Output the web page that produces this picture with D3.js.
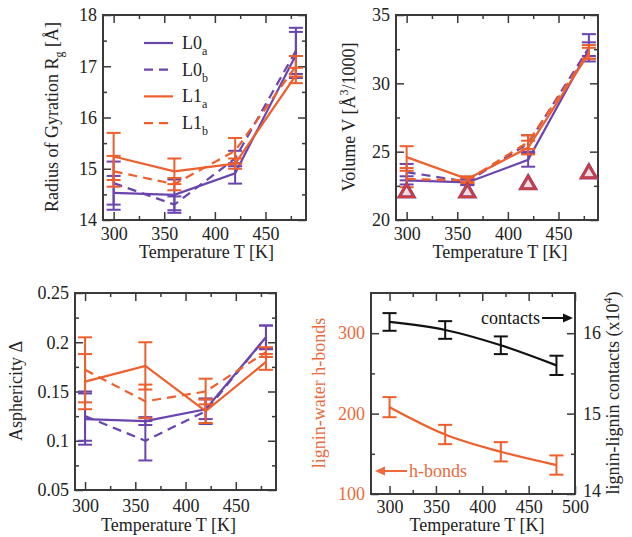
<!DOCTYPE html>
<html>
<head>
<meta charset="utf-8">
<script src="https://cdn.jsdelivr.net/npm/d3@7"></script>
<style>
body { margin: 0; background: #fff; }
text { font-family: "Liberation Serif", "DejaVu Serif", serif; }
</style>
</head>
<body>
<div class="canvas"></div>
<script>
// temperatures (K)
const temps = [300, 360, 420, 480];

// radius of gyration [A]
const rgL0a = [14.53, 14.49, 14.91, 17.22];
const rgL0aErr = [0.33, 0.3, 0.2, 0.45];
const rgL0b = [14.72, 14.3, 15.2, 17.3];
const rgL0bErr = [0.42, 0.16, 0.15, 0.45];
const rgL1a = [15.24, 14.95, 15.1, 16.82];
const rgL1aErr = [0.46, 0.25, 0.1, 0.15];
const rgL1b = [14.95, 14.7, 15.35, 17.0];
const rgL1bErr = [0.3, 0.12, 0.25, 0.2];

// volume [A^3/1000]
const volL0a = [22.9, 22.75, 24.4, 32.5];
const volL0aErr = [0.3, 0.2, 0.5, 0.5];
const volL0b = [23.5, 22.8, 25.6, 32.6];
const volL0bErr = [0.6, 0.2, 0.6, 1.0];
const volL1a = [24.6, 23.0, 25.3, 32.2];
const volL1aErr = [0.8, 0.2, 0.5, 0.4];
const volL1b = [23.0, 22.9, 25.7, 32.3];
const volL1bErr = [0.6, 0.2, 0.5, 0.5];
const volTriangle = [22.0, 22.0, 22.6, 23.4];

// asphericity
const asL0a = [0.122, 0.12, 0.132, 0.205];
const asL0aErr = [0.026, 0.004, 0.01, 0.012];
const asL0b = [0.125, 0.1, 0.13, 0.205];
const asL0bErr = [0.025, 0.02, 0.013, 0.012];
const asL1a = [0.16, 0.176, 0.13, 0.18];
const asL1aErr = [0.028, 0.024, 0.012, 0.008];
const asL1b = [0.172, 0.14, 0.15, 0.19];
const asL1bErr = [0.033, 0.017, 0.013, 0.005];

// h-bonds (left axis) and contacts x10^4 (right axis)
const hbonds = [208, 174, 152.5, 136];
const hbondsErr = [12.5, 12, 12, 12];
const contacts = [16.14, 16.04, 15.85, 15.6];
const contactsErr = [0.11, 0.11, 0.11, 0.12];

const purple = '#6a45b0';
const orange = '#ee5f2c';
const frameColor = '#3a3a3a';

const svg = d3.select('.canvas')
    .append('svg')
    .attr('width', 632)
    .attr('height', 537);

// one framed panel with inward ticks on all four sides
const panel = (o) => {
    const g = svg.append('g');
    const x = d3.scaleLinear().domain(o.xDomain).range([o.left, o.right]);
    const y = d3.scaleLinear().domain(o.yDomain).range([o.bottom, o.top]);

    const ax = (axis, tr) => g.append('g')
        .attr('transform', tr)
        .call(axis)
        .attr('color', frameColor)
        .attr('font-size', 18)
        .call(s => s.select('.domain').remove())
        .call(s => s.selectAll('line').attr('stroke-width', 1.5));

    // minor ticks
    ax(d3.axisBottom(x).tickValues(o.xMinor).tickSize(-4).tickSizeOuter(0).tickFormat(''), `translate(0,${o.bottom})`);
    ax(d3.axisTop(x).tickValues(o.xMinor).tickSize(-4).tickSizeOuter(0).tickFormat(''), `translate(0,${o.top})`);
    ax(d3.axisLeft(y).tickValues(o.yMinor).tickSize(-4).tickSizeOuter(0).tickFormat(''), `translate(${o.left},0)`);
    ax(d3.axisRight(y).tickValues(o.yMinor).tickSize(-4).tickSizeOuter(0).tickFormat(''), `translate(${o.right},0)`);

    // major ticks
    const xb = ax(d3.axisBottom(x).tickValues(o.xTicks).tickSize(-8).tickSizeOuter(0).tickPadding(o.xPad), `translate(0,${o.bottom})`);
    ax(d3.axisTop(x).tickValues(o.xTicks).tickSize(-8).tickSizeOuter(0).tickFormat(''), `translate(0,${o.top})`);
    const yl = ax(d3.axisLeft(y).tickValues(o.yTicks).tickSize(-8).tickSizeOuter(0).tickPadding(6).tickFormat(o.yFormat || (d => d)), `translate(${o.left},0)`);
    ax(d3.axisRight(y).tickValues(o.yTicks).tickSize(-8).tickSizeOuter(0).tickFormat(''), `translate(${o.right},0)`);
    xb.selectAll('text').attr('fill', '#222');
    yl.selectAll('text').attr('fill', '#222');

    g.append('rect')
        .attr('x', o.left).attr('y', o.top)
        .attr('width', o.right - o.left).attr('height', o.bottom - o.top)
        .attr('fill', 'none')
        .attr('stroke', frameColor)
        .attr('stroke-width', 2);

    // x title
    g.append('text')
        .attr('x', (o.left + o.right) / 2 + o.xTitleShift)
        .attr('y', o.xTitleY)
        .attr('text-anchor', 'middle')
        .attr('font-size', 18)
        .attr('fill', '#222')
        .text('Temperature T [K]');

    return { g, x, y, yl };
};

// rotated y title built from [text, shift] pieces
const yTitle = (g, cx, cy, parts, color) => {
    const t = g.append('text')
        .attr('transform', `translate(${cx},${cy}) rotate(-90)`)
        .attr('text-anchor', 'middle')
        .attr('dy', '0.35em')
        .attr('font-size', 18)
        .attr('fill', color || '#222');
    let cur = 0;
    parts.forEach(p => {
        const sp = t.append('tspan').text(p[0]).attr('dy', p[1] - cur);
        if (p[1] !== 0) sp.attr('font-size', 12);
        cur = p[1];
    });
};

const series = (p, ys, errs, color, dash, curve) => {
    const pts = temps.map((t, i) => [t, ys[i], errs[i]]);
    const line = d3.line()
        .x(d => p.x(d[0]))
        .y(d => p.y(d[1]))
        .curve(curve || d3.curveLinear);
    p.g.append('path')
        .datum(pts)
        .attr('d', line)
        .attr('fill', 'none')
        .attr('stroke', color)
        .attr('stroke-width', 2.2)
        .attr('stroke-dasharray', dash ? '9,6' : null);
    const eb = p.g.append('g').attr('stroke', color).attr('stroke-width', 2);
    const hw = 7;
    pts.forEach(d => {
        const cx = p.x(d[0]);
        const y0 = p.y(d[1] - d[2]);
        const y1 = p.y(d[1] + d[2]);
        eb.append('line').attr('x1', cx).attr('x2', cx).attr('y1', y0).attr('y2', y1);
        eb.append('line').attr('x1', cx - hw).attr('x2', cx + hw).attr('y1', y0).attr('y2', y0);
        eb.append('line').attr('x1', cx - hw).attr('x2', cx + hw).attr('y1', y1).attr('y2', y1);
    });
};

const xMinor = [325, 375, 425, 475];

// ---------- panel 1: radius of gyration ----------
const p1 = panel({
    left: 103, right: 306, top: 15, bottom: 220,
    xDomain: [289.5, 490], yDomain: [14, 18],
    xTicks: [300, 350, 400, 450], xMinor,
    yTicks: [14, 15, 16, 17, 18], yMinor: [14.5, 15.5, 16.5, 17.5],
    xPad: 7, xTitleY: 258, xTitleShift: 2
});
yTitle(p1.g, 58, 117, [['Radius of Gyration R', 0], ['g', 5], [' [Å]', 0]]);
series(p1, rgL0a, rgL0aErr, purple, false);
series(p1, rgL0b, rgL0bErr, purple, true);
series(p1, rgL1a, rgL1aErr, orange, false);
series(p1, rgL1b, rgL1bErr, orange, true);

// legend
const legendItems = [
    { name: 'L0', sub: 'a', color: purple, dash: false },
    { name: 'L0', sub: 'b', color: purple, dash: true },
    { name: 'L1', sub: 'a', color: orange, dash: false },
    { name: 'L1', sub: 'b', color: orange, dash: true }
];
const legend = p1.g.append('g').attr('transform', 'translate(144,43)');
legendItems.forEach((d, i) => {
    const row = legend.append('g').attr('transform', `translate(0,${i * 26.7})`);
    row.append('line')
        .attr('x1', 0).attr('x2', 29)
        .attr('stroke', d.color).attr('stroke-width', 2.2)
        .attr('stroke-dasharray', d.dash ? '9,6' : null);
    const t = row.append('text').attr('x', 38).attr('y', 6).attr('font-size', 18).attr('fill', '#222');
    t.append('tspan').text(d.name);
    t.append('tspan').text(d.sub).attr('font-size', 12).attr('dy', 6);
});

// ---------- panel 2: volume ----------
const p2 = panel({
    left: 396, right: 598, top: 15, bottom: 220,
    xDomain: [289.5, 489], yDomain: [20, 35],
    xTicks: [300, 350, 400, 450], xMinor,
    yTicks: [20, 25, 30, 35], yMinor: [22.5, 27.5, 32.5],
    xPad: 7, xTitleY: 258, xTitleShift: 3
});
yTitle(p2.g, 355, 117, [['Volume V [Å', 0], ['3', -7], ['/1000]', 0]]);
series(p2, volL0a, volL0aErr, purple, false);
series(p2, volL0b, volL0bErr, purple, true);
series(p2, volL1a, volL1aErr, orange, false);
series(p2, volL1b, volL1bErr, orange, true);
const tri = d3.symbol(d3.symbolTriangle, 95);
temps.forEach((t, i) => {
    p2.g.append('path')
        .attr('d', tri())
        .attr('transform', `translate(${p2.x(t)},${p2.y(volTriangle[i])})`)
        .attr('fill', '#f4dcdc')
        .attr('stroke', '#8a3a8a')
        .attr('stroke-width', 3.2);
    p2.g.append('path')
        .attr('d', tri())
        .attr('transform', `translate(${p2.x(t)},${p2.y(volTriangle[i])})`)
        .attr('fill', 'none')
        .attr('stroke', '#cf3f3a')
        .attr('stroke-width', 2);
});

// ---------- panel 3: asphericity ----------
const p3 = panel({
    left: 75, right: 276, top: 293, bottom: 490,
    xDomain: [290, 490], yDomain: [0.05, 0.25],
    xTicks: [300, 350, 400, 450], xMinor,
    yTicks: [0.05, 0.1, 0.15, 0.2, 0.25], yMinor: [0.075, 0.125, 0.175, 0.225],
    xPad: 9, xTitleY: 531, xTitleShift: -7
});
yTitle(p3.g, 22, 391, [['Asphericity Δ', 0]]);
series(p3, asL0a, asL0aErr, purple, false);
series(p3, asL0b, asL0bErr, purple, true);
series(p3, asL1a, asL1aErr, orange, false);
series(p3, asL1b, asL1bErr, orange, true);

// ---------- panel 4: h-bonds and contacts ----------
const p4 = panel({
    left: 371, right: 575, top: 293, bottom: 494,
    xDomain: [280, 500], yDomain: [100, 350],
    xTicks: [300, 350, 400, 450, 500], xMinor: [325, 375, 425, 475],
    yTicks: [100, 200, 300], yMinor: [150, 250],
    xPad: 6, xTitleY: 531, xTitleShift: 4
});
p4.yl.selectAll('text').attr('fill', '#ec6a3c');
// right axis labels for contacts
const yR = d3.scaleLinear().domain([14, 16.5]).range([494, 293]);
p4.g.append('g')
    .attr('transform', 'translate(575,0)')
    .call(d3.axisRight(yR).tickValues([14, 15, 16]).tickSize(0).tickPadding(8).tickFormat(d3.format('d')))
    .attr('font-size', 18)
    .call(s => s.select('.domain').remove())
    .call(s => s.selectAll('text').attr('fill', '#222'))
    .call(s => s.selectAll('.tick').filter(d => d === 14).select('text').attr('y', -3));
yTitle(p4.g, 325, 393, [['lignin-water h-bonds', 0]], '#ec6a3c');
yTitle(p4.g, 619, 393, [['lignin-lignin contacts (x10', 0], ['4', -7], [')', 0]]);

series(p4, hbonds, hbondsErr, orange, false, d3.curveMonotoneX);
series({ g: p4.g, x: p4.x, y: yR }, contacts, contactsErr, '#111', false, d3.curveMonotoneX);

// annotations
p4.g.append('text')
    .attr('x', 540).attr('y', 324)
    .attr('text-anchor', 'end')
    .attr('font-size', 18).attr('fill', '#111')
    .text('contacts');
p4.g.append('line')
    .attr('x1', 542).attr('x2', 566).attr('y1', 318).attr('y2', 318)
    .attr('stroke', '#111').attr('stroke-width', 2);
p4.g.append('path')
    .attr('d', 'M573,318 L563,313.5 L563,322.5 Z')
    .attr('fill', '#111');

p4.g.append('text')
    .attr('x', 409).attr('y', 477)
    .attr('font-size', 18).attr('fill', '#ec6a3c')
    .text('h-bonds');
p4.g.append('line')
    .attr('x1', 407).attr('x2', 382).attr('y1', 471).attr('y2', 471)
    .attr('stroke', '#ec6a3c').attr('stroke-width', 2);
p4.g.append('path')
    .attr('d', 'M375,471 L385,466.5 L385,475.5 Z')
    .attr('fill', '#ec6a3c');
</script>
</body>
</html>
